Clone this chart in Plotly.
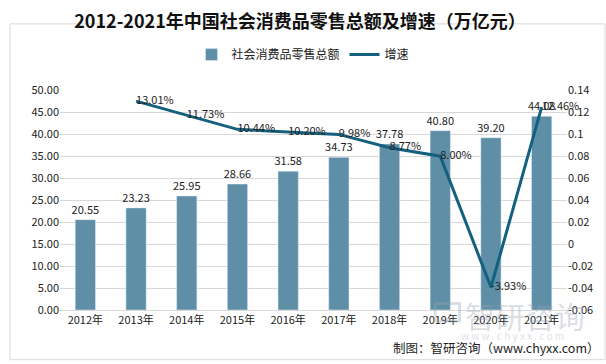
import plotly.graph_objects as go

years = ["2012年", "2013年", "2014年", "2015年", "2016年", "2017年", "2018年", "2019年", "2020年", "2021年"]
sales = [20.55, 23.23, 25.95, 28.66, 31.58, 34.73, 37.78, 40.80, 39.20, 44.08]
growth = [None, 0.1301, 0.1173, 0.1044, 0.1020, 0.0998, 0.0877, 0.0800, -0.0393, 0.1246]
growth_labels = ["", "13.01%", "11.73%", "10.44%", "10.20%", "9.98%", "8.77%", "8.00%", "-3.93%", "12.46%"]
left_ticks = [0, 5, 10, 15, 20, 25, 30, 35, 40, 45, 50]
right_ticks = [-0.06, -0.04, -0.02, 0, 0.02, 0.04, 0.06, 0.08, 0.1, 0.12, 0.14]
right_ticktext = ["-0.06", "-0.04", "-0.02", "0", "0.02", "0.04", "0.06", "0.08", "0.1", "0.12", "0.14"]

FONT = "Noto Sans CJK SC"
BAR_C = "#5F8FA7"
LINE_C = "#13607F"
WM = "rgba(150,160,175,0.35)"

fig = go.Figure()
fig.add_trace(go.Bar(
    x=years, y=sales, name="社会消费品零售总额", marker_color=BAR_C,
    width=0.4, text=[f"{v:.2f}" for v in sales], textposition="outside",
    constraintext="none",
    textfont=dict(size=11, color="#222"), cliponaxis=False,
))
fig.add_trace(go.Scatter(
    x=years, y=growth, name="增速", yaxis="y2", mode="lines+text",
    line=dict(color=LINE_C, width=3), text=growth_labels,
    textposition="middle right", textfont=dict(size=11, color="#222"),
    cliponaxis=False,
))

# watermark
fig.add_annotation(x=0.917, y=-0.022, xref="paper", yref="paper", xanchor="center", yanchor="middle",
                   text="智研咨询", showarrow=False, font=dict(family=FONT, size=30, color=WM))
fig.add_annotation(x=0.893, y=-0.118, xref="paper", yref="paper", xanchor="center", yanchor="middle",
                   text="w w w . c h y x x . c o m",
                   showarrow=False, font=dict(family=FONT, size=10, color=WM))
fig.add_annotation(x=1.07, y=-0.17, xref="paper", yref="paper", xanchor="right", yanchor="middle",
                   text="制图：智研咨询（www.chyxx.com）",
                   showarrow=False, font=dict(family=FONT, size=12.5, color="#222"))

fig.update_layout(
    width=606, height=364,
    margin=dict(l=60, r=39, t=73, b=54),
    paper_bgcolor="white", plot_bgcolor="white",
    font=dict(family=FONT, size=11, color="#222"),
    title=dict(text="<b>2012-2021年中国社会消费品零售总额及增速（万亿元）</b>", x=0.495, xanchor="center",
               xref="container", yref="container",
               y=0.94, yanchor="middle", font=dict(family=FONT, size=18, color="#111")),
    legend=dict(orientation="h", x=0.5, xanchor="center", y=0.85, yanchor="middle",
                xref="container", yref="container",
                font=dict(size=12), itemwidth=30),
    bargap=0.6,
    showlegend=True,
    xaxis=dict(showline=True, linecolor="#d9d9d9", tickfont=dict(size=11), ticks=""),
    yaxis=dict(range=[0, 50], tickvals=left_ticks, ticktext=[f"{v:.2f}" for v in left_ticks],
               showgrid=True, gridcolor="#d9d9d9", zeroline=False, tickfont=dict(size=11)),
    yaxis2=dict(range=[-0.06, 0.14], overlaying="y", side="right", tickvals=right_ticks,
                ticktext=right_ticktext, showgrid=False, zeroline=False, tickfont=dict(size=11)),
    shapes=[
        dict(type="rect", xref="paper", yref="paper", x0=-0.0985, y0=-0.226, x1=1.075, y1=1.302,
             line=dict(color="#d9d9d9", width=1)),
        # faint logo block of the watermark
        dict(type="rect", xref="paper", yref="paper", x0=0.74, y0=-0.05, x1=0.788, y1=0.03,
             line=dict(color=WM, width=3), fillcolor="rgba(0,0,0,0)"),
    ],
)

fig.write_html("out.html", config={"displayModeBar": False},
               post_script="document.body.style.margin='0';document.body.style.overflow='hidden';")
